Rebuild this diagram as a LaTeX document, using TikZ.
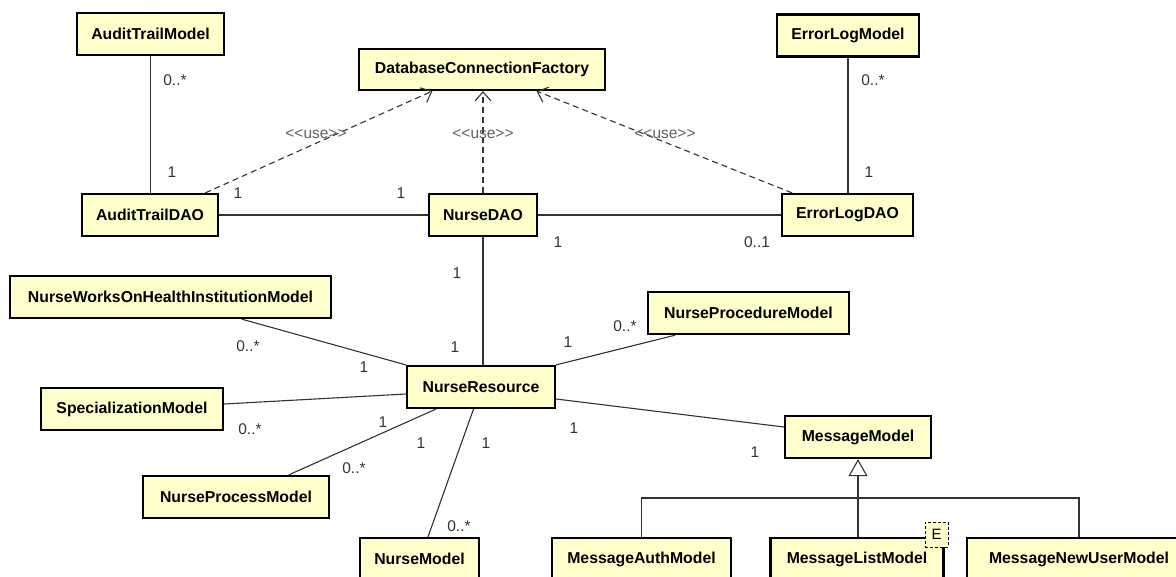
\documentclass[tikz,border=0pt]{standalone}
\usepackage{fontspec}
\setmainfont{Liberation Sans}
\usetikzlibrary{arrows.meta,calc}
\definecolor{clsfill}{RGB}{255,255,204}
\definecolor{lnc}{RGB}{51,51,51}
\begin{document}
\begin{tikzpicture}[x=1pt,y=-1pt,
  cls/.style={draw=black, line width=2.2pt, fill=clsfill, minimum height=42pt, inner sep=0pt,
    font=\fontsize{15.8}{18}\selectfont\bfseries},
  assoc/.style={draw=lnc, line width=1.1pt},
  usedep/.style={draw=lnc, line width=1.1pt, dash pattern=on 6pt off 4pt,
    -{Straight Barb[length=9pt,width=16pt,line width=1.1pt]}},
  mult/.style={font=\fontsize{15.5}{17}\selectfont, text=lnc, inner sep=0pt},
  stereo/.style={font=\fontsize{15.5}{17}\selectfont, text=black!62, inner sep=1pt},
  etagstyle/.style={draw=black, line width=0.9pt, dash pattern=on 3pt off 2pt, fill=clsfill,
    minimum width=23pt, minimum height=25pt, inner sep=0pt, font=\fontsize{15}{16}\selectfont}]
\useasboundingbox (0,0) rectangle (1176,576);
\begin{scope}
\clip (0,0) rectangle (1176,576);
\fill[white] (0,0) rectangle (1176,576);

% classes
\node[cls, minimum width=147pt] (atm) at (150.5,34) {AuditTrailModel};
\node[cls, minimum width=136pt] (atd) at (150,215) {AuditTrailDAO};
\node[cls, minimum width=246pt, minimum height=41pt] (dbcf) at (482,69.5) {DatabaseConnectionFactory};
\node[cls, minimum width=108pt] (nd) at (483,215) {NurseDAO};
\node[cls, minimum width=142pt] (elm) at (848,35.5) {ErrorLogModel};
\node[cls, minimum width=131pt] (eld) at (847.5,215) {ErrorLogDAO};
\node[cls, minimum width=321pt] (nw) at (170.5,297) {NurseWorksOnHealthInstitutionModel};
\node[cls, minimum width=182pt] (spec) at (132,409) {SpecializationModel};
\node[cls, minimum width=148pt] (nr) at (481,387) {NurseResource};
\node[cls, minimum width=186pt] (npm) at (236,497) {NurseProcessModel};
\node[cls, minimum width=119pt] (nm) at (419.5,559) {NurseModel};
\node[cls, minimum width=201pt] (npr) at (748.5,313) {NurseProcedureModel};
\node[cls, minimum width=146pt] (mm) at (858,437) {MessageModel};
\node[cls, minimum width=179pt] (mam) at (641.5,559) {MessageAuthModel};
\node[cls, minimum width=173pt] (mlm) at (857,559) {MessageListModel};
\node[cls, minimum width=224pt] (mnum) at (1079,559) {MessageNewUserModel};

% associations
\draw[assoc] (atm.south) -- (atm.south |- atd.north);
\draw[assoc] (atd.east) -- (nd.west);
\draw[assoc] (nd.east) -- (eld.west);
\draw[assoc] (elm.south) -- (elm.south |- eld.north);
\draw[assoc] (nd.south) -- (nd.south |- nr.north);
\draw[assoc] ($(nw.south west)!0.72!(nw.south east)$) -- (nr.north west);
\draw[assoc] ([yshift=5pt]spec.east) -- ([yshift=-7pt]nr.west);
\draw[assoc] ($(npm.north west)!0.78!(npm.north east)$) -- ($(nr.south west)!0.2!(nr.south east)$);
\draw[assoc] ($(nm.north west)!0.57!(nm.north east)$) -- ($(nr.south west)!0.45!(nr.south east)$);
\draw[assoc] (nr.north east) -- ($(npr.south west)!0.14!(npr.south east)$);
\draw[assoc] ([yshift=-12pt]nr.east) -- ([yshift=10pt]mm.west);

% use dependencies
\draw[usedep] ($(atd.north west)!0.9!(atd.north east)$) -- ($(dbcf.south west)!0.3!(dbcf.south east)$);
\draw[usedep] (nd.north) -- (nd.north |- dbcf.south);
\draw[usedep] ($(eld.north west)!0.084!(eld.north east)$) -- ($(dbcf.south west)!0.72!(dbcf.south east)$);
\node[stereo] (u1) at (316,134) {<{}<use>{}>};
\node[stereo] (u2) at (483,134) {<{}<use>{}>};
\node[stereo] (u3) at (665,134) {<{}<use>{}>};

% generalization
\coordinate (bus) at (858,498);
\draw[assoc] (mam.north) |- (bus) -| (mnum.north);
\draw[assoc, -{Triangle[open, length=17pt, width=19pt, fill=white, line width=1.1pt]}] (mlm.north -| mm.south) -- (mm.south);
\node[etagstyle] (etag) at (936.5,534.5) {E};

% multiplicities
\node[mult] (m1) at (175,80) {0..*};
\node[mult] (m2) at (172,172) {1};
\node[mult] (m3) at (238,193) {1};
\node[mult] (m4) at (401,193) {1};
\node[mult] (m5) at (558,242) {1};
\node[mult] (m6) at (757,242) {0..1};
\node[mult] (m7) at (873,80) {0..*};
\node[mult] (m8) at (869,172) {1};
\node[mult] (m9) at (457,273) {1};
\node[mult] (m10) at (455,347) {1};
\node[mult] (m11) at (248,346) {0..*};
\node[mult] (m12) at (364,367) {1};
\node[mult] (m13) at (250,429) {0..*};
\node[mult] (m14) at (383,422) {1};
\node[mult] (m15) at (354,468) {0..*};
\node[mult] (m16) at (421,443) {1};
\node[mult] (m17) at (486,443) {1};
\node[mult] (m18) at (459,526) {0..*};
\node[mult] (m19) at (568,342) {1};
\node[mult] (m20) at (625,326) {0..*};
\node[mult] (m21) at (574,428) {1};
\node[mult] (m22) at (755,452) {1};
\end{scope}
\end{tikzpicture}
\end{document}
